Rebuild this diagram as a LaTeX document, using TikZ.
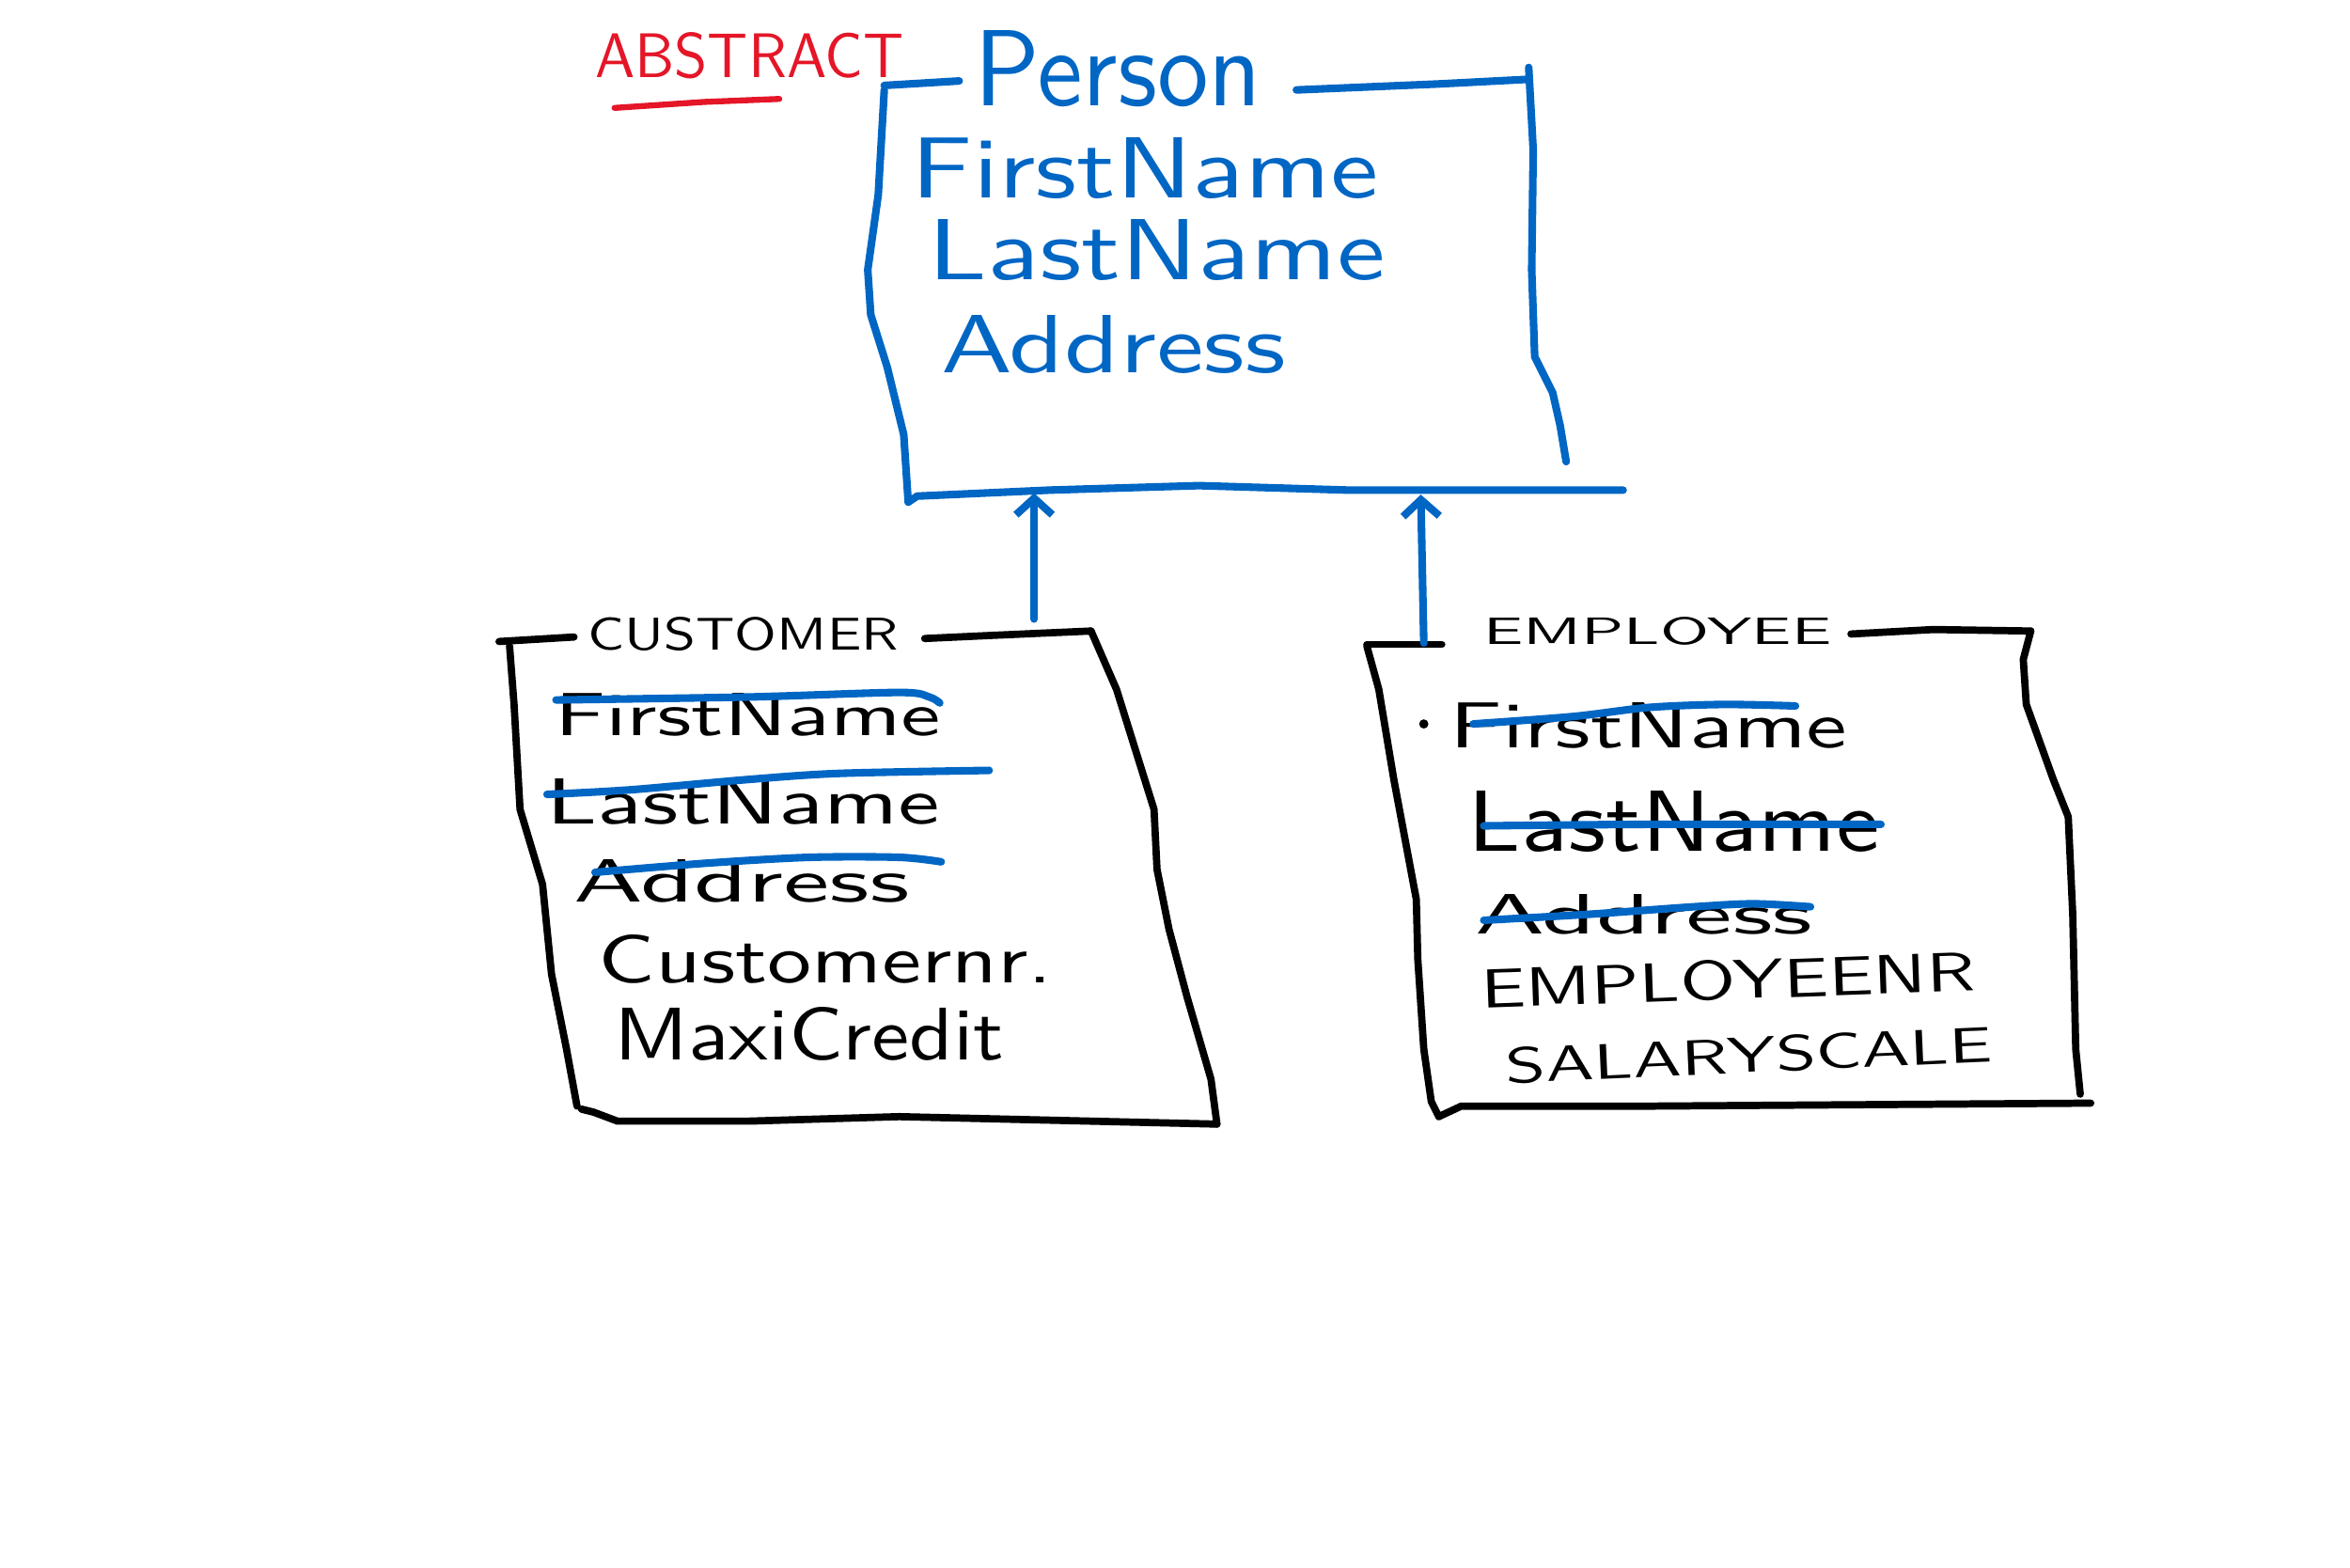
\documentclass[tikz,border=0pt]{standalone}
\usetikzlibrary{arrows.meta}
\definecolor{inkblue}{RGB}{0,102,196}
\definecolor{inkred}{RGB}{228,22,40}
% stretch a word to the size it has on the board
\newcommand{\scrawl}[3]{\resizebox{#1}{#2}{#3}}

\begin{document}
\begin{tikzpicture}[x=0.015944cm,y=-0.015944cm,
  line cap=round,line join=round,
  blueink/.style={draw=inkblue,line width=2.3pt},
  blackink/.style={draw=black,line width=2.2pt},
  redink/.style={draw=inkred,line width=1.8pt},
  word/.style={inner sep=0pt,font=\sffamily},
  isa/.style={blueink,-{Straight Barb[length=5pt,width=11pt]}}]
\useasboundingbox (0,0) rectangle (1568,1046);

% abstract base class
\node[word,text=inkred] (abstract) at (500,37) {\scrawl{3.28cm}{0.48cm}{ABSTRACT}};
\draw[redink] (410,72) -- (470,68) -- (520,66);
\node[word,text=inkblue] (person) at (746,46) {\scrawl{3.06cm}{0.80cm}{Person}};
\node[word,text=inkblue] (p-first) at (764,112) {\scrawl{4.97cm}{0.64cm}{FirstName}};
\node[word,text=inkblue] (p-last) at (772,167) {\scrawl{4.86cm}{0.64cm}{LastName}};
\node[word,text=inkblue] (p-addr) at (743,230) {\scrawl{3.67cm}{0.61cm}{Address}};
\draw[blueink] (590,57) -- (640,54);
\draw[blueink] (865,60) -- (960,56) -- (1018,53);
\draw[blueink] (590,60) -- (586,130) -- (579,180) -- (581,210) -- (592,245) -- (603,290) -- (606,335);
\draw[blueink] (1020,45) -- (1023,100) -- (1022,180) -- (1024,238) -- (1036,262) -- (1041,284) -- (1045,308);
\draw[blueink] (606,335) -- (612,331) -- (700,327) -- (800,324) -- (900,327) -- (1083,327);
\coordinate (p-foot1) at (690,329);
\coordinate (p-foot2) at (948,330);

% customer
\node[word] (customer) at (496,423) {\scrawl{3.30cm}{0.35cm}{CUSTOMER}};
\node[word] (c-first) at (499,477) {\scrawl{4.11cm}{0.45cm}{FirstName}};
\node[word] (c-last) at (496,535) {\scrawl{4.19cm}{0.48cm}{LastName}};
\node[word] (c-addr) at (495,588) {\scrawl{3.57cm}{0.45cm}{Address}};
\node[word] (c-nr) at (551,640) {\scrawl{4.83cm}{0.51cm}{Customernr.}};
\node[word] (c-credit) at (540,690) {\scrawl{4.15cm}{0.56cm}{MaxiCredit}};
\draw[blackink] (333,428) -- (383,425);
\draw[blackink] (617,426) -- (660,424) -- (728,421);
\draw[blackink] (340,431) -- (343,470) -- (347,540) -- (362,590) -- (368,650) -- (378,700) -- (385,738);
\draw[blackink] (728,421) -- (745,460) -- (770,540) -- (772,580) -- (780,620) -- (792,665) -- (808,720) -- (812,750);
\draw[blackink] (388,740) -- (396,742) -- (412,748) -- (500,748) -- (600,745) -- (812,750);
\draw[blueink] plot[smooth] coordinates {(371,467) (500,465) (600,462) (620,465) (627,469)};
\draw[blueink] plot[smooth] coordinates {(365,530) (420,527) (500,520) (560,516) (660,514)};
\draw[blueink] plot[smooth] coordinates {(397,582) (470,576) (540,572) (600,572) (628,575)};
\coordinate (c-top) at (690,413);

% employee
\node[word] (employee) at (1106,421) {\scrawl{3.70cm}{0.29cm}{EMPLOYEE}};
\node[word] (e-first) at (1100,484) {\scrawl{4.23cm}{0.48cm}{FirstName}};
\node[word] (e-last) at (1117,548) {\scrawl{4.38cm}{0.64cm}{LastName}};
\node[word] (e-addr) at (1097,610) {\scrawl{3.59cm}{0.42cm}{Address}};
\node[word,rotate=2] (e-nr) at (1153,654) {\scrawl{5.26cm}{0.42cm}{EMPLOYEENR}};
\node[word,rotate=2.5] (e-scale) at (1167,704) {\scrawl{5.18cm}{0.38cm}{SALARYSCALE}};
\fill (950,483) circle (1.4pt);
\draw[blackink] (912,430) -- (962,430);
\draw[blackink] (1235,423) -- (1290,420) -- (1355,421);
\draw[blackink] (912,431) -- (920,460) -- (930,520) -- (945,600) -- (946,640) -- (950,700) -- (955,735) -- (960,745);
\draw[blackink] (1355,421) -- (1350,440) -- (1352,470) -- (1370,520) -- (1380,545) -- (1383,610) -- (1385,700) -- (1388,730);
\draw[blackink] (960,745) -- (975,738) -- (1100,738) -- (1395,736);
\draw[blueink] plot[smooth] coordinates {(983,483) (1050,478) (1100,472) (1150,470) (1198,471)};
\draw[blueink] plot[smooth] coordinates {(990,551) (1100,550) (1255,550)};
\draw[blueink] plot[smooth] coordinates {(990,614) (1060,610) (1130,605) (1170,603) (1208,605)};
\coordinate (e-top) at (950,429);

% inheritance
\draw[isa] (c-top) -- (p-foot1);
\draw[isa] (e-top) -- (p-foot2);
\end{tikzpicture}
\end{document}
